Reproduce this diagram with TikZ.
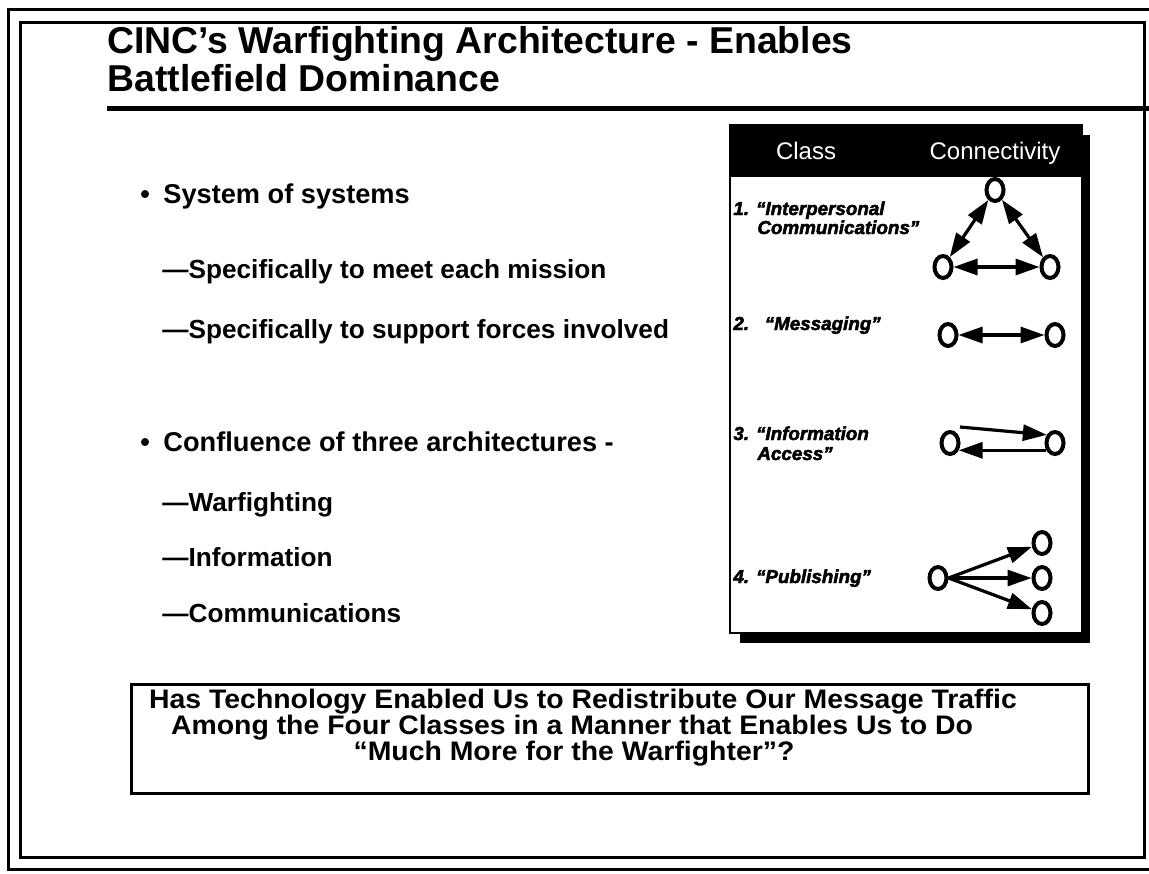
\documentclass[tikz,border=0pt]{standalone}
\usepackage{fontspec}
\setmainfont{Liberation Sans}
\newfontfamily\clsfont[FakeBold=2.5]{Liberation Sans Bold Italic}
\newfontfamily\qfont[FakeStretch=1.06]{Liberation Sans Bold}
\usetikzlibrary{arrows.meta,shapes.geometric}
\begin{document}
\begin{tikzpicture}[x=0.5pt,y=-0.5pt,
  frame/.style={line width=1.5pt},
  titletext/.style={anchor=base west,inner sep=0pt,font=\fontsize{18.7}{20}\selectfont\bfseries},
  lvlone/.style={anchor=base west,inner sep=0pt,font=\fontsize{13.6}{15}\selectfont\bfseries},
  lvltwo/.style={anchor=base west,inner sep=0pt,font=\fontsize{13.1}{15}\selectfont\bfseries},
  qline/.style={anchor=base,inner sep=0pt,font=\fontsize{13.4}{15}\selectfont\qfont},
  cls/.style={anchor=base west,inner sep=0pt,font=\fontsize{9.4}{10}\selectfont\clsfont},
  hdr/.style={anchor=base,text=white,inner sep=0pt,font=\fontsize{12}{13}\selectfont},
  vtx/.style={ellipse,draw,line width=2pt,fill=white,minimum width=8.5pt,minimum height=11pt,inner sep=0pt},
  arr/.style={line width=1.6pt,-{Triangle[length=12pt,width=8pt]}},
  darr/.style={line width=1.6pt,{Triangle[length=12pt,width=8pt]}-{Triangle[length=12pt,width=8pt]}},
]
\useasboundingbox (0,0) rectangle (1149,873);
\fill[white] (0,0) rectangle (1149,873);
% frames
\draw[frame] (8,9) rectangle (1175,869);
\draw[frame] (20,22) rectangle (1144,857);
% title
\node[titletext] (t1l) at (107,53) {CINC’s Warfighting Architecture - Enables};
\node[titletext] (t2l) at (107,91) {Battlefield Dominance};
\draw[line width=2.5pt] (107,108) -- (1160,108);
% bullets
\node[lvlone] (d1) at (140,203) {•};
\node[lvlone] (b1) at (163,203) {System of systems};
\node[lvltwo] (b11) at (162,278) {—Specifically to meet each mission};
\node[lvltwo] (b12) at (162,338) {—Specifically to support forces involved};
\node[lvlone] (d2) at (140,451) {•};
\node[lvlone] (b2) at (163,451) {Confluence of three architectures -};
\node[lvltwo] (b21) at (162,511) {—Warfighting};
\node[lvltwo] (b22) at (162,566) {—Information};
\node[lvltwo] (b23) at (162,622) {—Communications};
% table
\fill (740,135) rectangle (1090,643);
\draw[line width=1.25pt,fill=white] (730,125) rectangle (1082,633);
\fill (730,125) rectangle (1082,177);
\node[hdr] (hc) at (806,159) {Class};
\node[hdr] (hk) at (995,159) {Connectivity};
\node[cls] (c1a) at (733,215) {1. “Interpersonal};
\node[cls] (c1b) at (757,234) {Communications”};
\node[cls] (c2) at (733,330) {2.\ \ \ “Messaging”};
\node[cls] (c3a) at (733,440) {3. “Information};
\node[cls] (c3b) at (757,460) {Access”};
\node[cls] (c4) at (733,583) {4. “Publishing”};
% class 1
\node[vtx] (a1) at (995,190) {};
\node[vtx] (a2) at (943,267) {};
\node[vtx] (a3) at (1050,267) {};
\draw[darr] (a1) -- (a2);
\draw[darr] (a1) -- (a3);
\draw[darr] (a2) -- (a3);
% class 2
\node[vtx] (m1) at (948,335) {};
\node[vtx] (m2) at (1055,335) {};
\draw[darr] (m1) -- (m2);
% class 3
\node[vtx] (i1) at (950,443) {};
\node[vtx] (i2) at (1055,443) {};
\draw[arr] ([shift={(10,-16)}]i1.center) -- (i2.135);
\draw[arr] (i2.220) -- (i1.-40);
% class 4
\node[vtx] (p0) at (938,578) {};
\node[vtx] (p1) at (1042,543) {};
\node[vtx] (p2) at (1042,578) {};
\node[vtx] (p3) at (1042,613) {};
\draw[arr] (p0.east) -- (p1);
\draw[arr] (p0.east) -- (p2);
\draw[arr] (p0.east) -- (p3);
% question box
\draw[line width=1.5pt] (131,684) rectangle (1088,793);
\node[qline] (q1) at (583,708) {Has Technology Enabled Us to Redistribute Our Message Traffic};
\node[qline] (q2) at (572,734) {Among the Four Classes in a Manner that Enables Us to Do};
\node[qline] (q3) at (574,760) {“Much More for the Warfighter”?};
\end{tikzpicture}
\end{document}
